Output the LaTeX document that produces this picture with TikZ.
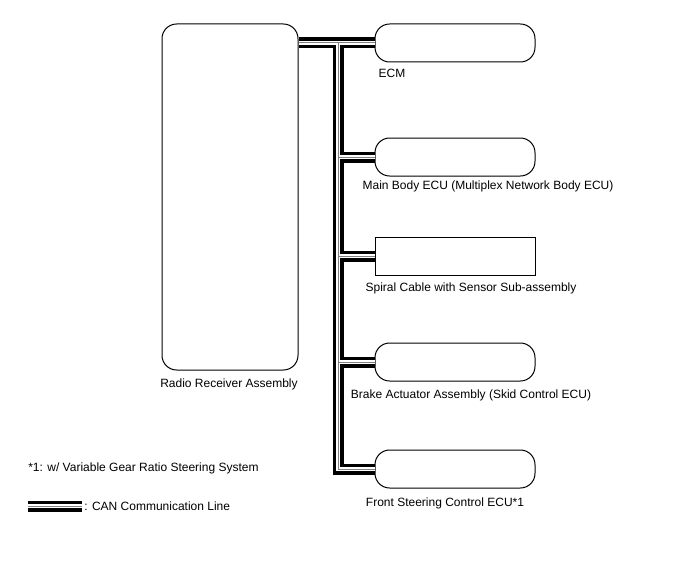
\documentclass[tikz,border=0pt]{standalone}
\usepackage{fontspec}
\setmainfont{Liberation Sans}
\begin{document}
\begin{tikzpicture}[x=0.75pt,y=-0.75pt,font=\fontsize{9}{11}\selectfont]
\tikzstyle{ecu}=[draw,line width=0.75pt,minimum width=120pt,minimum height=28.5pt,rounded corners=11pt]
\tikzstyle{txt}=[inner sep=0pt]
\useasboundingbox (0,0) rectangle (688,560);

\node[draw,line width=0.75pt,minimum width=102pt,minimum height=259.5pt,rounded corners=11pt](rra) at (230,197) {};
\node[ecu](ecm) at (455,43) {};
\node[ecu](mb) at (455,157) {};
\node[ecu,rounded corners=0pt](sc) at (455,256) {};
\node[ecu](ba) at (455,362) {};
\node[ecu](fsc) at (455,469) {};

\node[txt](lrra) at (229,384) {Radio Receiver Assembly};
\node[txt](lecm) at (392,73) {ECM};
\node[txt](lmb) at (488,186) {Main Body ECU (Multiplex Network Body ECU)};
\node[txt](lsc) at (471,288) {Spiral Cable with Sensor Sub-assembly};
\node[txt](lba) at (471,395) {Brake Actuator Assembly (Skid Control ECU)};
\node[txt](lfsc) at (445,503) {Front Steering Control ECU*1};
\node[txt,anchor=west](note) at (28,468) {*1: w/ Variable Gear Ratio Steering System};
\node[txt,anchor=west](key) at (84,506) {: CAN Communication Line};

\coordinate (bt) at (338,43);
\coordinate (bb) at (338,469);
\coordinate (k1) at (28,506);
\coordinate (k2) at (82,506);

% CAN bus: black, white, gray
\foreach \w/\c in {8.25pt/black,3.6pt/white,0.75pt/gray}{
  \draw[line width=\w,\c] (rra.east|-bt) -- (ecm.west);
  \draw[line width=\w,\c] (bt) -- (bb) -- (fsc.west);
  \draw[line width=\w,\c] (bt|-mb.west) -- (mb.west);
  \draw[line width=\w,\c] (bt|-sc.west) -- (sc.west);
  \draw[line width=\w,\c] (bt|-ba.west) -- (ba.west);
  \draw[line width=\w,\c] (k1) -- (k2);
}
\end{tikzpicture}
\end{document}
